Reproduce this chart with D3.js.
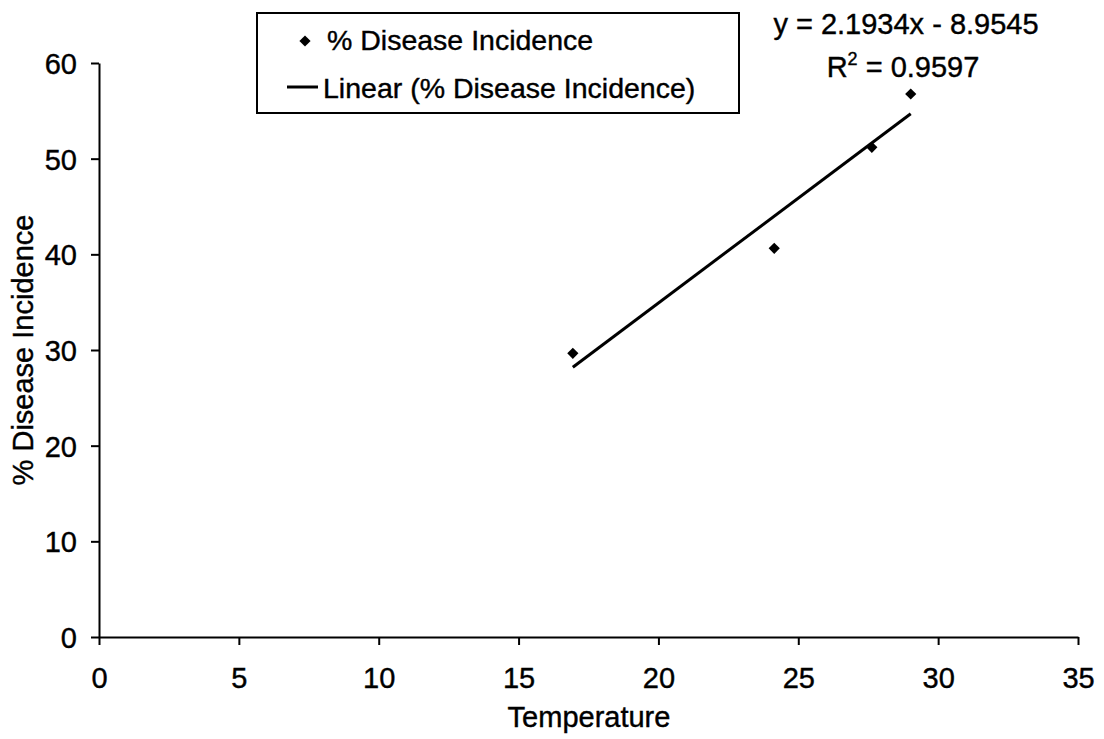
<!DOCTYPE html>
<html>
<head>
<meta charset="utf-8">
<script src="https://cdn.jsdelivr.net/npm/d3@7"></script>
<style>
  body { margin: 0; background: #fff; }
  svg { font-family: "Liberation Sans", Arial, sans-serif; }
  svg text { stroke: #000; stroke-width: 0.4px; }
</style>
</head>
<body>
<div id="chart"></div>
<script>
// values
let temperature = [16.94, 24.14, 27.63, 29.02];
let incidence = [29.65, 40.63, 51.19, 56.76];
let xTicks = [0, 5, 10, 15, 20, 25, 30, 35];
let yTicks = [0, 10, 20, 30, 40, 50, 60];
let slope = 2.1934, intercept = -8.9545;
let equationText = "y = 2.1934x - 8.9545";
let r2Value = "0.9597";

let width = 1104, height = 739;
let margin = { top: 63, right: 26, bottom: 102, left: 99 };

let svg = d3.select("#chart")
    .append("svg")
    .attr("width", width)
    .attr("height", height);

let x = d3.scaleLinear().domain([0, 35]).range([margin.left, width - margin.right]);
let y = d3.scaleLinear().domain([0, 60]).range([height - margin.bottom, margin.top]);

// Axes
let xAxis = svg.append("g")
    .attr("transform", `translate(0,${height - margin.bottom})`)
    .call(d3.axisBottom(x).tickValues(xTicks).tickSize(8).tickPadding(22).tickSizeOuter(0));

let yAxis = svg.append("g")
    .attr("transform", `translate(${margin.left},0)`)
    .call(d3.axisLeft(y).tickValues(yTicks).tickSize(8).tickPadding(14).tickSizeOuter(0));

[xAxis, yAxis].forEach(g => {
    g.select(".domain").attr("stroke", "#000").attr("stroke-width", 2);
    g.selectAll(".tick line").attr("stroke", "#000").attr("stroke-width", 2);
    g.selectAll(".tick text")
        .attr("fill", "#000")
        .attr("font-size", "29px")
        .attr("font-family", "Liberation Sans, Arial, sans-serif");
});
yAxis.selectAll(".tick text").attr("dy", "0.36em");

// Axis titles
svg.append("text")
    .attr("x", 589)
    .attr("y", 727)
    .attr("text-anchor", "middle")
    .attr("font-size", "29px")
    .text("Temperature");

svg.append("text")
    .attr("transform", `translate(33,${(y(0) + y(60)) / 2}) rotate(-90)`)
    .attr("text-anchor", "middle")
    .attr("font-size", "29px")
    .text("% Disease Incidence");

// Trend line
let xMin = d3.min(temperature), xMax = d3.max(temperature);
svg.append("line")
    .attr("x1", x(xMin))
    .attr("y1", y(slope * xMin + intercept))
    .attr("x2", x(xMax))
    .attr("y2", y(slope * xMax + intercept))
    .attr("stroke", "#000")
    .attr("stroke-width", 3);

// Points
let diamond = d3.symbol().type(d3.symbolDiamond2).size(80);
svg.selectAll(".pt")
    .data(temperature)
    .enter()
    .append("path")
    .attr("class", "pt")
    .attr("d", diamond)
    .attr("transform", (d, i) => `translate(${x(d)},${y(incidence[i])})`)
    .attr("fill", "#000");

// Legend
let legend = svg.append("g");
legend.append("rect")
    .attr("x", 257)
    .attr("y", 13)
    .attr("width", 482)
    .attr("height", 100)
    .attr("fill", "#fff")
    .attr("stroke", "#000")
    .attr("stroke-width", 2)
    .style("stroke-width", "2px");

legend.append("path")
    .attr("d", diamond)
    .attr("transform", "translate(305,41)")
    .attr("fill", "#000");

legend.append("text")
    .attr("x", 327)
    .attr("y", 50)
    .attr("font-size", "28.5px")
    .text("% Disease Incidence");

legend.append("line")
    .attr("x1", 287).attr("x2", 318)
    .attr("y1", 87).attr("y2", 87)
    .attr("stroke", "#000")
    .attr("stroke-width", 3);

legend.append("text")
    .attr("x", 323)
    .attr("y", 98)
    .attr("font-size", "28.5px")
    .text("Linear (% Disease Incidence)");

// Equation
svg.append("text")
    .attr("x", 906)
    .attr("y", 34)
    .attr("text-anchor", "middle")
    .attr("font-size", "29px")
    .text(equationText);

let r2 = svg.append("text")
    .attr("x", 903)
    .attr("y", 77)
    .attr("text-anchor", "middle")
    .attr("font-size", "29px");
r2.append("tspan").text("R");
r2.append("tspan").attr("font-size", "18px").attr("dy", "-12").text("2");
r2.append("tspan").attr("dy", "12").text(" = " + r2Value);
</script>
</body>
</html>
